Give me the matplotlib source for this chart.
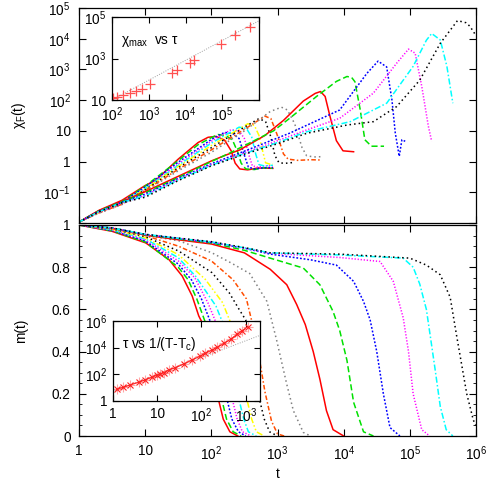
import numpy as np
import matplotlib
matplotlib.use("Agg")
import matplotlib.pyplot as plt
from matplotlib.ticker import FixedLocator, NullLocator, MultipleLocator

plt.rcParams['font.family'] = ['Liberation Sans', 'DejaVu Sans']
plt.rcParams['mathtext.fontset'] = 'custom'
plt.rcParams['mathtext.rm'] = 'Liberation Sans'
plt.rcParams['mathtext.it'] = 'Liberation Sans'
plt.rcParams['mathtext.bf'] = 'Liberation Sans'
plt.rcParams['font.size'] = 9.8

# ---------------- data (log10 t, values) ----------------
# short-relaxation group: red, green, blue, magenta, cyan, yellow, black, orange, gray
# long-relaxation group: red, green, blue, magenta, cyan, black
chi_short_logt = [
    [0, 0.3, 0.65, 1.0, 1.16, 1.5, 1.8, 1.95, 2.07, 2.2, 2.3, 2.36, 2.43, 2.55, 2.7, 2.93],
    [0, 0.3, 0.65, 1.0, 1.5, 1.8, 2.0, 2.1, 2.22, 2.32, 2.4, 2.45, 2.52, 2.65, 2.8, 2.93],
    [0, 0.3, 0.65, 1.0, 1.5, 2.0, 2.2, 2.32, 2.42, 2.5, 2.56, 2.65, 2.8, 2.93],
    [0, 0.3, 0.65, 1.0, 1.5, 2.0, 2.3, 2.42, 2.5, 2.57, 2.62, 2.7, 2.8, 2.93],
    [0, 0.3, 0.65, 1.0, 1.5, 2.0, 2.42, 2.53, 2.61, 2.67, 2.72, 2.8, 2.93],
    [0, 0.3, 0.65, 1.0, 1.5, 2.0, 2.55, 2.65, 2.72, 2.78, 2.82, 2.88, 2.93],
    [0, 0.3, 0.65, 1.0, 1.5, 2.0, 2.5, 2.72, 2.82, 2.9, 2.96, 3.02, 3.1, 3.24],
    [0, 0.3, 0.65, 1.0, 1.5, 2.0, 2.5, 2.81, 2.9, 2.99, 3.09, 3.16, 3.3, 3.5, 3.67],
    [0, 0.3, 0.65, 1.0, 1.5, 2.0, 2.5, 2.89, 3.06, 3.15, 3.26, 3.37, 3.44, 3.55, 3.67],
]
chi_short_logchi = [
    [-1.97, -1.59, -1.26, -0.78, -0.61, 0.08, 0.62, 0.79, 0.82, 0.70, 0.35, -0.05, -0.24, -0.27, -0.21, -0.22],
    [-1.97, -1.61, -1.30, -0.80, 0.03, 0.55, 0.78, 0.88, 0.85, 0.70, 0.30, -0.05, -0.24, -0.26, -0.20, -0.22],
    [-1.97, -1.62, -1.32, -0.83, -0.02, 0.72, 0.95, 0.92, 0.75, 0.20, -0.18, -0.24, -0.20, -0.20],
    [-1.97, -1.66, -1.38, -0.88, -0.08, 0.66, 1.04, 1.00, 0.75, 0.20, -0.14, -0.18, -0.14, -0.14],
    [-1.97, -1.64, -1.36, -0.88, -0.12, 0.60, 1.12, 1.08, 0.80, 0.25, -0.10, -0.14, -0.12],
    [-1.97, -1.65, -1.37, -0.90, -0.16, 0.52, 1.23, 1.18, 0.85, 0.30, -0.04, -0.08, -0.08],
    [-1.97, -1.66, -1.38, -0.92, -0.20, 0.45, 1.12, 1.40, 1.30, 0.80, 0.20, -0.03, -0.06, -0.03],
    [-1.97, -1.67, -1.39, -0.94, -0.25, 0.38, 1.05, 1.48, 1.40, 0.90, 0.25, 0.08, 0.04, 0.06, 0.05],
    [-1.97, -1.68, -1.40, -0.96, -0.30, 0.30, 1.00, 1.63, 1.77, 1.68, 1.23, 0.46, 0.19, 0.15, 0.16],
]
chi_long_logt = [
    [0, 0.3, 0.65, 1.0, 1.5, 2.0, 2.23, 2.43, 2.81, 3.09, 3.39, 3.57, 3.65, 3.72, 3.79, 3.89, 3.99, 4.15],
    [0, 0.3, 0.65, 1.0, 1.5, 2.0, 2.28, 2.94, 3.19, 3.59, 3.89, 4.05, 4.12, 4.17, 4.25, 4.32, 4.42, 4.61],
    [0, 0.3, 0.65, 1.0, 1.5, 2.0, 2.43, 3.19, 3.94, 4.35, 4.52, 4.65, 4.73, 4.78, 4.84, 4.88, 4.93],
    [0, 0.3, 0.65, 1.0, 1.5, 2.0, 2.5, 3.0, 3.44, 3.94, 4.45, 4.80, 4.98, 5.08, 5.18, 5.28, 5.33],
    [0, 0.3, 0.65, 1.0, 1.5, 2.0, 2.5, 3.0, 3.44, 4.10, 4.65, 5.05, 5.25, 5.33, 5.46, 5.56, 5.65],
    [0, 0.3, 0.65, 1.0, 1.5, 2.0, 2.5, 3.0, 3.44, 4.05, 4.45, 4.80, 5.15, 5.46, 5.72, 5.85, 5.91, 6.0],
]
chi_long_logchi = [
    [-1.97, -1.60, -1.30, -0.98, -0.48, 0.02, 0.22, 0.38, 0.85, 1.34, 1.97, 2.22, 2.28, 2.12, 1.50, 0.68, 0.35, 0.32],
    [-1.97, -1.61, -1.31, -1.02, -0.52, 0.00, 0.28, 1.00, 1.42, 2.12, 2.61, 2.77, 2.74, 2.60, 1.69, 0.71, 0.50, 0.50],
    [-1.97, -1.62, -1.32, -1.06, -0.55, -0.07, 0.28, 0.93, 1.68, 2.87, 3.27, 3.08, 2.00, 0.93, 0.17, 0.71, 0.66],
    [-1.97, -1.64, -1.36, -1.10, -0.58, -0.10, 0.28, 0.68, 1.03, 1.41, 2.23, 3.20, 3.66, 3.53, 2.45, 1.15, 0.66],
    [-1.97, -1.63, -1.33, -1.12, -0.60, -0.12, 0.26, 0.62, 0.97, 1.30, 1.90, 3.10, 3.95, 4.17, 3.96, 3.10, 1.90],
    [-1.97, -1.63, -1.34, -1.16, -0.62, -0.14, 0.24, 0.58, 0.92, 1.19, 1.30, 1.79, 2.65, 3.85, 4.59, 4.52, 4.40, 4.10],
]

m_short_logt = [
    [0, 0.5, 1.01, 1.36, 1.56, 1.71, 1.81, 1.86, 1.96, 2.03, 2.11, 2.18, 2.28, 2.4],
    [0, 0.5, 1.0, 1.5, 1.65, 1.78, 1.91, 2.01, 2.08, 2.16, 2.23, 2.33, 2.45],
    [0, 0.5, 1.0, 1.5, 1.7, 1.85, 1.99, 2.09, 2.16, 2.24, 2.31, 2.41, 2.52],
    [0, 0.5, 1.0, 1.5, 1.75, 1.95, 2.07, 2.17, 2.24, 2.32, 2.39, 2.47, 2.6],
    [0, 0.5, 1.0, 1.5, 1.76, 2.07, 2.17, 2.27, 2.34, 2.42, 2.49, 2.56, 2.68],
    [0, 0.5, 1.0, 1.5, 1.91, 2.17, 2.29, 2.39, 2.46, 2.54, 2.61, 2.68, 2.8],
    [0, 0.5, 1.0, 1.51, 2.01, 2.27, 2.42, 2.52, 2.6, 2.66, 2.73, 2.80, 2.88, 3.0],
    [0, 0.5, 1.0, 1.5, 2.0, 2.33, 2.53, 2.63, 2.74, 2.81, 2.91, 3.0, 3.1],
    [0, 0.5, 1.0, 1.51, 2.01, 2.3, 2.58, 2.84, 2.99, 3.14, 3.24, 3.39, 3.5],
]
m_short_val = [
    [1, 0.97, 0.915, 0.836, 0.758, 0.664, 0.569, 0.538, 0.40, 0.30, 0.17, 0.08, 0.02, 0],
    [1, 0.972, 0.92, 0.80, 0.74, 0.65, 0.538, 0.40, 0.30, 0.17, 0.08, 0.02, 0],
    [1, 0.974, 0.925, 0.815, 0.74, 0.65, 0.538, 0.40, 0.30, 0.17, 0.08, 0.02, 0],
    [1, 0.976, 0.93, 0.83, 0.75, 0.63, 0.538, 0.40, 0.30, 0.17, 0.08, 0.02, 0],
    [1, 0.978, 0.935, 0.845, 0.758, 0.616, 0.538, 0.40, 0.30, 0.17, 0.08, 0.02, 0],
    [1, 0.98, 0.94, 0.86, 0.742, 0.632, 0.538, 0.40, 0.30, 0.17, 0.08, 0.02, 0],
    [1, 0.982, 0.945, 0.876, 0.774, 0.679, 0.60, 0.55, 0.42, 0.31, 0.17, 0.08, 0.02, 0],
    [1, 0.984, 0.95, 0.90, 0.83, 0.74, 0.65, 0.52, 0.34, 0.21, 0.07, 0.01, 0],
    [1, 0.985, 0.952, 0.925, 0.868, 0.82, 0.77, 0.638, 0.45, 0.245, 0.12, 0.017, 0],
]
m_long_logt = [
    [0, 0.5, 1.0, 1.5, 2.0, 2.5, 2.89, 3.14, 3.29, 3.42, 3.54, 3.64, 3.74, 3.84, 4.0],
    [0, 0.5, 1.0, 1.5, 2.0, 2.5, 2.89, 3.39, 3.64, 3.84, 3.94, 4.05, 4.15, 4.30, 4.45],
    [0, 0.5, 1.0, 1.5, 2.0, 2.5, 2.89, 3.5, 3.89, 4.15, 4.30, 4.40, 4.50, 4.60, 4.70, 4.85],
    [0, 0.5, 1.0, 1.5, 2.0, 2.5, 2.89, 3.94, 4.55, 4.75, 4.90, 4.98, 5.05, 5.18, 5.3],
    [0, 0.5, 1.0, 1.5, 2.0, 2.5, 2.89, 3.94, 4.90, 5.05, 5.15, 5.25, 5.32, 5.38, 5.46, 5.55, 5.65],
    [0, 0.5, 1.0, 1.5, 2.0, 2.5, 2.89, 3.94, 5.0, 5.25, 5.46, 5.61, 5.71, 5.86, 5.96, 6.0],
]
m_long_val = [
    [1, 0.985, 0.952, 0.93, 0.91, 0.868, 0.79, 0.717, 0.623, 0.528, 0.40, 0.27, 0.12, 0.03, 0.0],
    [1, 0.986, 0.954, 0.934, 0.915, 0.88, 0.843, 0.796, 0.717, 0.59, 0.50, 0.358, 0.16, 0.02, 0.0],
    [1, 0.986, 0.955, 0.936, 0.917, 0.89, 0.862, 0.835, 0.81, 0.733, 0.638, 0.55, 0.40, 0.20, 0.04, 0.0],
    [1, 0.986, 0.955, 0.937, 0.92, 0.89, 0.866, 0.846, 0.827, 0.733, 0.56, 0.40, 0.20, 0.03, 0.0],
    [1, 0.986, 0.956, 0.937, 0.92, 0.892, 0.868, 0.858, 0.843, 0.80, 0.72, 0.60, 0.45, 0.32, 0.14, 0.03, 0.0],
    [1, 0.986, 0.956, 0.938, 0.921, 0.893, 0.868, 0.862, 0.843, 0.81, 0.764, 0.657, 0.47, 0.20, 0.075, 0.05],
]

# inset 1: chi_max vs tau
ins1_tau = [108, 134, 203, 309, 447, 646, 1070, 4270, 5750, 13200, 17000, 91200, 224000, 575000]
ins1_chi = [12.0, 14.5, 17.4, 20.9, 28.2, 33.9, 58.9, 195, 282, 589, 851, 5010, 13500, 33900]
ins1_fit_tau = [100, 1000000]
ins1_fit_chi = [10.0, 66000]

# inset 2: tau vs 1/(T-Tc)
ins2_x = [1.21, 1.72, 2.43, 3.77, 5.33, 7.57, 9.77, 11.7, 13.9, 18.1, 25.7, 39.6, 61.4,
          94.8, 123, 174, 229, 324, 457, 646, 832, 1096]
ins2_tau = [7.6, 10.7, 15.8, 25.1, 38.0, 60.3, 85.1, 107, 132, 214, 316, 603, 1200,
            2400, 3800, 6760, 10700, 21400, 42700, 107000, 186000, 372000]
ins2_fit_x = [1.1, 2000]
ins2_fit_tau = [6.0, 79000]

# ---------------- styles ----------------
short_colors = ['#ff0000', '#00e000', '#0000ff', '#ff00ff', '#00ffff', '#ffff00',
                '#000000', '#ff4d00', '#808080']
short_dash = ['-', (0, (4, 2)), (0, (1.2, 1.2)), (0, (0.8, 1.2)), (0, (4, 1.5, 1, 1.5)),
              (0, (4, 1.5, 1, 1.5, 1, 1.5)), (0, (1, 2)), (0, (3, 1.5, 1, 1.5)), (0, (1, 2))]
long_idx = [0, 1, 2, 3, 4, 6]

fig = plt.figure(figsize=(4.91, 4.80), dpi=100)
L, W = 79 / 491, (476 - 79) / 491
ax1 = fig.add_axes([L, 1 - 223 / 480, W, (223 - 8) / 480])
ax2 = fig.add_axes([L, 1 - 436 / 480, W, (436 - 225) / 480])

lw = 1.1
def draw(ax, lt, val, logy, color, ls):
    x = np.power(10.0, np.array(lt))
    y = np.power(10.0, np.array(val)) if logy else np.array(val)
    ax.plot(x, y, color=color, linestyle=ls, lw=lw)

for i in range(9):
    draw(ax1, chi_short_logt[i], chi_short_logchi[i], True, short_colors[i], short_dash[i])
    draw(ax2, m_short_logt[i], m_short_val[i], False, short_colors[i], short_dash[i])
for j, k in enumerate(long_idx):
    draw(ax1, chi_long_logt[j], chi_long_logchi[j], True, short_colors[k], short_dash[k])
    draw(ax2, m_long_logt[j], m_long_val[j], False, short_colors[k], short_dash[k])

xt = [1, 10, 100, 1e3, 1e4, 1e5, 1e6]
xtl = ['1', '10', r'$10^{2}$', r'$10^{3}$', r'$10^{4}$', r'$10^{5}$', r'$10^{6}$']
for ax in (ax1, ax2):
    ax.set_xscale('log')
    ax.set_xlim(1, 1e6)
    ax.xaxis.set_major_locator(FixedLocator(xt))
    ax.xaxis.set_minor_locator(NullLocator())
    ax.tick_params(which='both', direction='in', top=True, right=True)
    ax.tick_params(which='major', length=5, width=0.8, pad=6)
    ax.tick_params(which='minor', length=2.5, width=0.6)
    for s in ax.spines.values():
        s.set_linewidth(0.9)

ax1.set_yscale('log')
ax1.set_ylim(1e-2, 1e5)
yt1 = [1e-2, 1e-1, 1, 10, 1e2, 1e3, 1e4, 1e5]
ax1.yaxis.set_major_locator(FixedLocator(yt1))
ax1.yaxis.set_minor_locator(NullLocator())
ax1.set_yticklabels(['', r'$10^{-1}$', '1', '10', r'$10^{2}$', r'$10^{3}$', r'$10^{4}$', r'$10^{5}$'])
ax1.set_xticklabels([])
ax1.set_ylabel(r'$\chi_{\mathrm{F}}$(t)')
ax1.yaxis.set_label_coords(-51 / 397, 0.5)

ax2.set_ylim(0, 1)
ax2.yaxis.set_major_locator(MultipleLocator(0.2))
ax2.yaxis.set_minor_locator(MultipleLocator(0.05))
ax2.set_yticks([0, 0.2, 0.4, 0.6, 0.8, 1.0])
ax2.set_yticklabels(['0', '0.2', '0.4', '0.6', '0.8', '1'])
ax2.set_xticklabels(xtl)
ax2.set_ylabel('m(t)')
ax2.yaxis.set_label_coords(-51 / 397, 0.5)
ax2.set_xlabel('t', labelpad=3)

# inset 1
ia = fig.add_axes([112 / 491, 1 - 100 / 480, 147 / 491, 83 / 480])
ia.plot(ins1_fit_tau, ins1_fit_chi, color='#a0a0a0', lw=0.7, linestyle=(0, (1, 1.5)))
ia.plot(ins1_tau, ins1_chi, linestyle='none', marker='+', ms=7, mew=0.9, color='#ff5050')
ia.set_xscale('log'); ia.set_yscale('log')
ia.set_xlim(1e2, 1e6); ia.set_ylim(10, 1e5)
ia.xaxis.set_major_locator(FixedLocator([1e2, 1e3, 1e4, 1e5, 1e6]))
ia.xaxis.set_minor_locator(NullLocator())
ia.set_xticklabels([r'$10^{2}$', r'$10^{3}$', r'$10^{4}$', r'$10^{5}$', ''])
ia.yaxis.set_major_locator(FixedLocator([10, 1e3, 1e5]))
ia.yaxis.set_minor_locator(NullLocator())
ia.set_yticklabels(['10', r'$10^{3}$', r'$10^{5}$'])
ia.tick_params(which='both', direction='in', top=True, right=True, length=4, width=0.8, pad=4)
ia.text(0.06, 0.68, r'$\chi_{\mathrm{max}}$  vs $\tau$', transform=ia.transAxes, fontsize=9.8)
for s in ia.spines.values():
    s.set_linewidth(0.9)

# inset 2
ib = fig.add_axes([113 / 491, 1 - 401 / 480, 147 / 491, 80 / 480])
ib.plot(ins2_fit_x, ins2_fit_tau, color='#a0a0a0', lw=0.7, linestyle=(0, (1, 1.5)))
ib.plot(ins2_x, ins2_tau, linestyle='none', marker='+', ms=7, mew=0.8, color='#ff9090', alpha=0.8)
ib.plot(ins2_x, ins2_tau, linestyle='-', lw=0.8, marker='x', ms=5, mew=0.8, color='#ff2020')
ib.set_xscale('log'); ib.set_yscale('log')
ib.set_xlim(1, 2100); ib.set_ylim(1, 1e6)
ib.xaxis.set_major_locator(FixedLocator([1, 10, 100, 1000]))
ib.xaxis.set_minor_locator(NullLocator())
ib.set_xticklabels(['1', '10', r'$10^{2}$', r'$10^{3}$'])
ib.yaxis.set_major_locator(FixedLocator([1, 1e2, 1e4, 1e6]))
ib.yaxis.set_minor_locator(NullLocator())
ib.set_yticklabels(['1', r'$10^{2}$', r'$10^{4}$', r'$10^{6}$'])
ib.tick_params(which='both', direction='in', top=True, right=True, length=4, width=0.8, pad=4)
ib.text(0.06, 0.66, r'$\tau$ vs 1/(T-T$_{\mathrm{c}}$)', transform=ib.transAxes, fontsize=9.8)
for s in ib.spines.values():
    s.set_linewidth(0.9)

fig.savefig('out.png', dpi=100)
